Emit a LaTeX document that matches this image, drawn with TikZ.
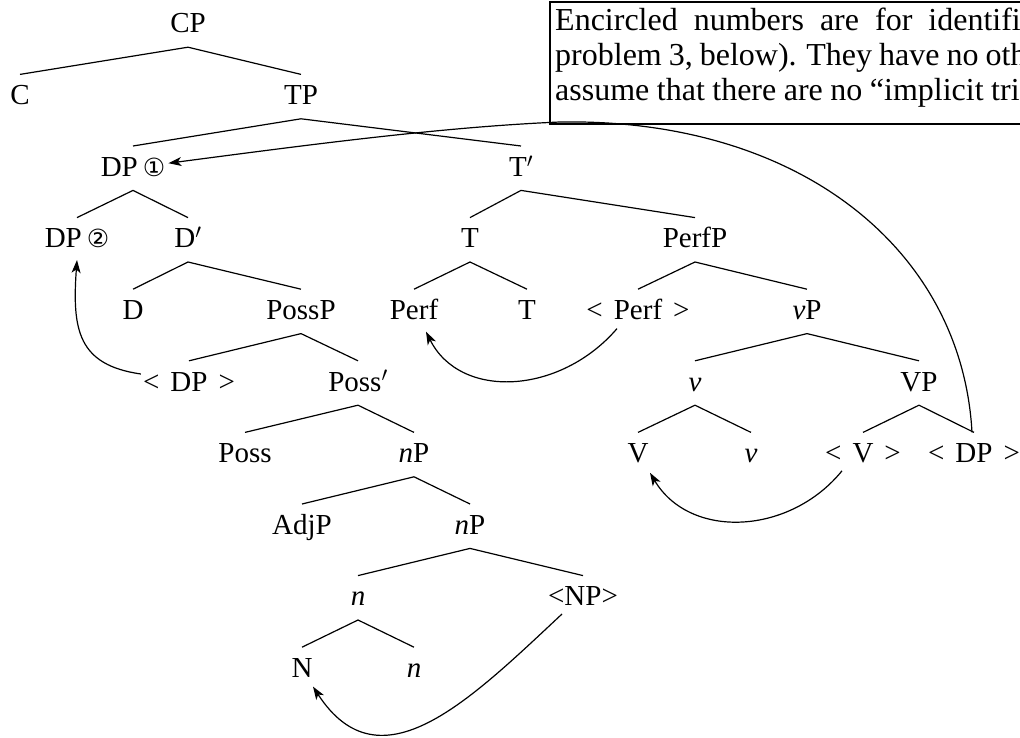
\documentclass[tikz,border=0pt]{standalone}
\usepackage{fontspec}
\setmainfont{Liberation Serif}
\newfontfamily\circfont{DejaVu Sans}
\usetikzlibrary{arrows.meta,calc}
\tikzset{
  lab/.style={inner sep=0pt, text height=30pt, text depth=14pt, font=\fontsize{29}{34}\selectfont},
  br/.style={line width=1.2pt},
  mv/.style={line width=1.2pt, -{Stealth[length=13pt,width=9pt,inset=3.5pt]}},
  para/.style={inner sep=0pt, anchor=base west, font=\fontsize{32}{36}\selectfont}
}
\newcommand{\cnum}[1]{{\circfont\fontsize{25}{25}\selectfont #1}}
\newcommand{\tr}[1]{<\hspace{0.38em}#1\hspace{0.38em}>}
\begin{document}
\begin{tikzpicture}[x=1pt,y=-1pt]
\useasboundingbox (0,0) rectangle (1020,738);
\clip (0,0) rectangle (1020,738);
% text box
\draw[line width=1.2pt] (550,2) rectangle (1040,124);
\node[para] (t1) at (555,31) {\spaceskip=16pt Encircled numbers are for identifi};
\node[para] (t2) at (555,66) {\spaceskip=7pt problem 3, below). They have no oth};
\node[para] (t3) at (555,101) {\spaceskip=7.5pt assume that there are no “implicit tri};
% nodes
\node[lab] (cp) at (188,25) {CP};
\node[lab] (c) at (20,96.6) {C};
\node[lab] (tp) at (301,96.6) {TP};
\node[lab] (dp1) at (133,168.2) {DP\hspace{5pt}\cnum{①}};
\node[lab] (tbar) at (521,168.2) {T$'$};
\node[lab] (dp2) at (77,239.8) {DP\hspace{5pt}\cnum{②}};
\node[lab] (dbar) at (188,239.8) {D$'$};
\node[lab] (t) at (470,239.8) {T};
\node[lab] (perfp) at (695,239.8) {PerfP};
\node[lab] (d) at (133,311.4) {D};
\node[lab] (possp) at (301,311.4) {PossP};
\node[lab] (perf) at (414,311.4) {Perf};
\node[lab] (t2n) at (527,311.4) {T};
\node[lab] (perft) at (638,311.4) {\tr{Perf}};
\node[lab] (vp1) at (807,311.4) {\textit{v}P};
\node[lab] (dpl) at (189,383) {\tr{DP}};
\node[lab] (possbar) at (358,383) {Poss$'$};
\node[lab] (vs) at (695,383) {\textit{v}};
\node[lab] (vp2) at (919,383) {VP};
\node[lab] (poss) at (245,454.6) {Poss};
\node[lab] (np1) at (414,454.6) {\textit{n}P};
\node[lab] (vv) at (638,454.6) {V};
\node[lab] (vs2) at (751,454.6) {\textit{v}};
\node[lab] (vt) at (863,454.6) {\tr{V}};
\node[lab] (dpr) at (974,454.6) {\tr{DP}};
\node[lab] (adjp) at (302,526.2) {AdjP};
\node[lab] (np2) at (470,526.2) {\textit{n}P};
\node[lab] (ns) at (358,597.8) {\textit{n}};
\node[lab] (npt) at (583,597.8) {<NP>};
\node[lab] (nn) at (302,669.4) {N};
\node[lab] (ns2) at (414,669.4) {\textit{n}};
\coordinate (bend) at (560,122);
% branches
\foreach \a/\b in {cp/c,cp/tp,tp/dp1,tp/tbar,dp1/dp2,dp1/dbar,tbar/t,tbar/perfp,
  dbar/d,dbar/possp,t/perf,t/t2n,perfp/perft,perfp/vp1,possp/dpl,possp/possbar,
  vp1/vs,vp1/vp2,possbar/poss,possbar/np1,vs/vv,vs/vs2,vp2/vt,vp2/dpr,
  np1/adjp,np1/np2,np2/ns,np2/npt,ns/nn,ns/ns2}
  \draw[br] (\a.south) -- (\b.north);
% movement arrows
\draw[mv] ($(dpr.north)+(-2,0)$) .. controls (962,250) and (800,118) .. (bend)
  .. controls (440,127) and (300,146) .. ($(dp1.east)+(3,-5)$);
\draw[mv] ($(dpl.west)+(-2,-9)$) .. controls (78,365) and (72,330) .. ($(dp2.south)+(0,-2)$);
\draw[mv] ($(perft.south)+(-21,-5)$) .. controls (560,395) and (460,400) .. ($(perf.south)+(12,-2)$);
\draw[mv] ($(vt.south)+(-21,-6)$) .. controls (790,535) and (690,540) .. ($(vv.south)+(12,-4)$);
\draw[mv] ($(npt.south)+(-21,-6)$) .. controls (470,700) and (380,790) .. ($(nn.south)+(11,-5)$);
\end{tikzpicture}
\end{document}
